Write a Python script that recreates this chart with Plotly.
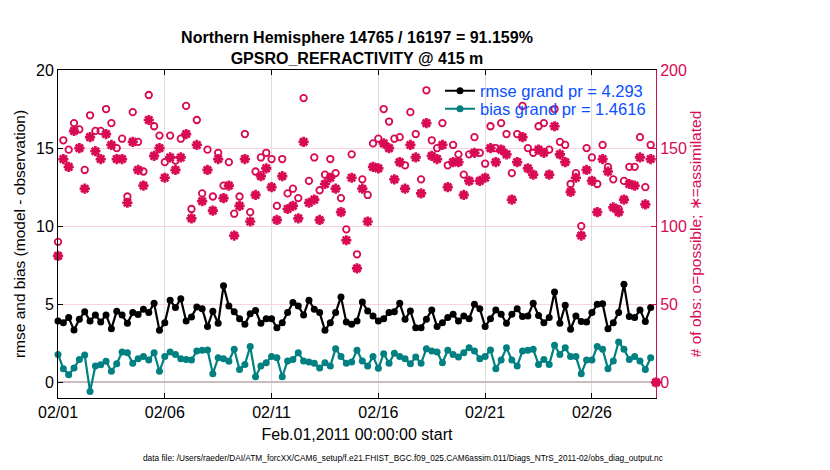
import pandas as pd
import plotly.graph_objects as go

times = pd.date_range("2011-02-01 00:00", periods=113, freq="6h")

rmse = [3.93, 3.82, 4.15, 3.35, 4.04, 4.53, 3.93, 4.32, 3.87, 4.32, 3.44, 4.55, 4.32, 3.78, 4.47, 4.34,
        4.68, 4.47, 5.06, 3.33, 3.82, 5.26, 4.79, 5.36, 3.93, 4.19, 4.83, 4.72, 3.57, 4.55, 3.78, 6.18,
        4.89, 4.53, 4.08, 3.72, 4.40, 4.60, 3.78, 4.08, 4.08, 3.50, 3.82, 4.47, 5.11, 4.89, 4.32, 5.26,
        4.68, 4.47, 3.33, 3.82, 4.47, 5.47, 3.87, 3.72, 3.93, 5.15, 4.57, 4.25, 3.93, 4.08, 4.47, 4.53,
        5.06, 4.04, 4.57, 3.50, 3.50, 4.04, 4.64, 3.57, 3.82, 4.15, 4.36, 3.93, 4.25, 4.08, 5.00, 4.72,
        3.57, 4.08, 4.64, 4.36, 3.78, 4.36, 4.72, 4.21, 4.25, 5.06, 4.29, 3.82, 4.15, 5.79, 3.78, 4.94,
        3.40, 4.25, 3.89, 3.87, 4.47, 5.00, 5.04, 3.44, 3.82, 4.47, 6.28, 4.21, 4.15, 4.64, 3.89, 4.79,
        None]

bias = [1.79, 0.88, 0.49, 0.92, 1.47, 1.75, -0.58, 1.05, 1.13, 1.35, 0.71, 1.20, 1.94, 1.90, 1.22, 1.52,
        1.65, 1.43, 1.90, 0.71, 1.65, 1.94, 1.79, 1.52, 1.47, 1.43, 2.01, 2.05, 2.07, 0.56, 1.58, 1.52,
        1.35, 2.12, 0.83, 1.15, 2.29, 0.36, 1.05, 1.26, 1.65, 1.58, 0.36, 1.37, 1.47, 1.90, 1.37, 1.30,
        1.22, 0.92, 1.26, 1.05, 2.16, 1.65, 1.22, 1.30, 2.05, 1.37, 1.05, 1.65, 0.90, 1.84, 1.22, 1.86,
        1.65, 1.52, 1.20, 1.62, 1.22, 2.16, 2.01, 1.94, 1.26, 2.05, 1.79, 1.62, 1.90, 2.22, 2.01, 1.52,
        1.65, 2.07, 0.88, 1.43, 2.22, 1.43, 1.05, 2.01, 2.05, 2.12, 1.15, 1.47, 1.15, 2.37, 1.79, 2.22,
        1.65, 1.65, 0.56, 1.43, 1.43, 2.29, 2.12, 0.88, 1.37, 2.59, 2.12, 1.47, 1.65, 1.37, 0.83, 1.58,
        None]

n_possible = [90, 155, 149, 166, 162, 136, 171, 161, 161, 175, 166, 150, 156, 119, 173, 154,
              135, 184, 164, 158, 141, 158, 142, 156, 177, 111, 168, 121, 149, 119, 147, 126,
              141, 108, 119, 159, 109, 135, 144, 147, 143, 113, 143, 121, 124, 118, 182, 129,
              144, 123, 133, 143, 134, 118, 98, 146, 82, 130, 120, 153, 156, 175, 167, 156,
              157, 139, 173, 159, 130, 187, 155, 150, 166, 139, 152, 146, 133, 146, 157, 147,
              140, 164, 150, 166, 159, 134, 159, 177, 150, 147, 164, 166, 149, 175, 154, 152,
              127, 134, 100, 150, 144, 127, 152, 138, 130, 111, 129, 138, 138, 157, 125, 152,
              0]

n_assim = [81, 143, 138, 161, 150, 124, 157, 148, 143, 159, 152, 143, 143, 115, 154, 136,
           126, 168, 145, 150, 131, 144, 136, 144, 159, 105, 152, 116, 136, 110, 143, 118,
           126, 94, 113, 143, 103, 120, 132, 137, 125, 104, 132, 111, 113, 105, 154, 115,
           117, 104, 127, 131, 124, 109, 91, 131, 73, 124, 103, 138, 137, 153, 150, 130,
           141, 124, 152, 144, 121, 166, 145, 143, 152, 125, 141, 141, 120, 129, 147, 129,
           131, 150, 141, 149, 146, 117, 141, 157, 137, 133, 149, 147, 133, 164, 146, 141,
           122, 131, 94, 136, 129, 109, 143, 135, 112, 109, 117, 127, 126, 144, 114, 143,
           0]

tick_vals = ["2011-02-01", "2011-02-06", "2011-02-11", "2011-02-16", "2011-02-21", "2011-02-26"]
tick_text = ["02/01", "02/06", "02/11", "02/16", "02/21", "02/26"]

title_lines = ["Northern Hemisphere 14765 / 16197 = 91.159%", "GPSRO_REFRACTIVITY @ 415 m"]
legend_rmse = "rmse grand pr = 4.293"
legend_bias = "bias grand pr = 1.4616"
xlabel = "Feb.01,2011 00:00:00 start"
ylabel = "rmse and bias (model - observation)"
y2label = "# of obs: o=possible; \u2217=assimilated"
datafile = ("data file: /Users/raeder/DAI/ATM_forcXX/CAM6_setup/f.e21.FHIST_BGC.f09_025."
            "CAM6assim.011/Diags_NTrS_2011-02/obs_diag_output.nc")

CRIMSON = "rgb(215,10,83)"
TEAL = "rgb(0,128,128)"
FONT = "Liberation Sans"

# page has an 8px body offset; figure coords = page coords - 8
OFF = 8
W, H = 830, 470
L, T = 58 - OFF, 70 - OFF
R = W - (656 - OFF)
B = H - (398 - OFF)
plot_w = W - L - R
plot_h = H - T - B


def px(xpage):
    return (xpage - OFF - L) / plot_w


def py(ypage):
    return (H - B - (ypage - OFF)) / plot_h


fig = go.Figure()

fig.add_trace(go.Scatter(
    x=times, y=rmse, mode="lines+markers", name=legend_rmse, legend="legend",
    line=dict(color="black", width=2.2),
    marker=dict(color="black", size=7, symbol="circle"),
    cliponaxis=False,
))
fig.add_trace(go.Scatter(
    x=times, y=bias, mode="lines+markers", name=legend_bias, legend="legend2",
    line=dict(color=TEAL, width=2.2),
    marker=dict(color=TEAL, size=7, symbol="circle"),
    cliponaxis=False,
))
fig.add_trace(go.Scatter(
    x=times, y=n_possible, mode="markers", yaxis="y2", showlegend=False,
    marker=dict(symbol="circle-open", size=6.5, color=CRIMSON, line=dict(color=CRIMSON, width=1.8)),
    cliponaxis=False,
))
fig.add_trace(go.Scatter(
    x=times, y=n_assim, mode="markers", yaxis="y2", showlegend=False,
    marker=dict(symbol="asterisk-open", size=8.5, color=CRIMSON, line=dict(color=CRIMSON, width=2.7)),
    cliponaxis=False,
))

legend_style = dict(xanchor="left", yanchor="middle", bgcolor="rgba(0,0,0,0)",
                    font=dict(size=16.5, color="rgb(10,80,255)"), itemwidth=30)

fig.update_layout(
    width=W, height=H,
    margin=dict(l=L, r=R, t=T, b=B, autoexpand=False),
    paper_bgcolor="white", plot_bgcolor="white",
    font=dict(family=FONT, size=16, color="black"),
    title=dict(text="<br>".join("<b>" + s + "</b>" for s in title_lines),
               x=(L + plot_w / 2) / W, xanchor="center", y=1 - 35 / H, yanchor="top",
               font=dict(family=FONT, size=16, color="black")),
    xaxis=dict(
        type="date", range=["2011-02-01 00:00", "2011-03-01 00:00"],
        tickvals=tick_vals, ticktext=tick_text,
        ticks="inside", ticklen=5, tickcolor="black",
        showline=True, linecolor="black", linewidth=1, mirror="ticks",
        showgrid=True, gridcolor="#dedede", gridwidth=1,
        tickfont=dict(size=16), title=dict(text=xlabel, font=dict(size=16), standoff=8),
        zeroline=False, automargin=False,
    ),
    yaxis=dict(
        range=[-1, 20], tickvals=[0, 5, 10, 15, 20],
        ticks="inside", ticklen=5, tickcolor="black",
        showline=True, linecolor="black", linewidth=1,
        showgrid=False, zeroline=True, zerolinecolor="#c9bcbf", zerolinewidth=2,
        tickfont=dict(size=16), title=dict(text=ylabel, font=dict(size=15.5), standoff=6),
        automargin=False,
    ),
    yaxis2=dict(
        overlaying="y", side="right", range=[-10, 200],
        tickvals=[0, 50, 100, 150, 200],
        ticks="inside", ticklen=5, tickcolor=CRIMSON,
        showline=True, linecolor=CRIMSON, linewidth=1,
        showgrid=True, gridcolor="#f8d3df", gridwidth=1, zeroline=False,
        tickfont=dict(size=16, color=CRIMSON),
        title=dict(text=y2label, font=dict(size=15.5, color=CRIMSON), standoff=4),
        automargin=False,
    ),
    legend=dict(x=px(440), y=py(91), **legend_style),
    legend2=dict(x=px(440), y=py(109), **legend_style),
    showlegend=True,
)

fig.add_annotation(
    text=datafile, xref="paper", yref="paper", x=px(403), y=py(458),
    xanchor="center", yanchor="middle", showarrow=False,
    font=dict(size=8.3, family=FONT, color="black"),
)

fig.write_html("out.html")
